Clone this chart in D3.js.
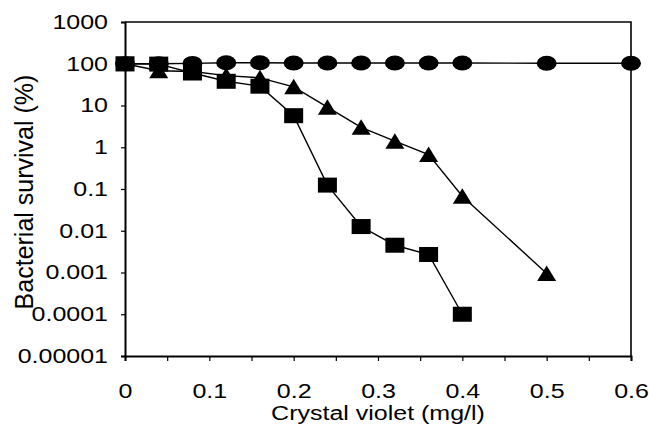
<!DOCTYPE html>
<html>
<head>
<meta charset="utf-8">
<script src="https://cdn.jsdelivr.net/npm/d3@7"></script>
<style>
  body { margin: 0; background: #fff; }
  text { font-family: "Liberation Sans", Arial, sans-serif; fill: #000; }
</style>
</head>
<body>
<div id="chart"></div>
<script>
// Crystal violet concentration (mg/l) and bacterial survival (%)
const circleDose = [0, 0.04, 0.08, 0.12, 0.16, 0.2, 0.24, 0.28, 0.32, 0.36, 0.4, 0.5, 0.6];
const circleSurvival = [100, 100, 102, 106, 106, 104, 104, 104, 104, 104, 104, 103, 103];

const triangleDose = [0, 0.04, 0.08, 0.12, 0.16, 0.2, 0.24, 0.28, 0.32, 0.36, 0.4, 0.5];
const triangleSurvival = [100, 68, 65, 52, 46, 28, 9.1, 3.0, 1.4, 0.67, 0.067, 0.00095];

const squareDose = [0, 0.04, 0.08, 0.12, 0.16, 0.2, 0.24, 0.28, 0.32, 0.36, 0.4];
const squareSurvival = [100, 98, 60, 38, 29, 5.7, 0.124, 0.0126, 0.0045, 0.0027, 0.0001];

const xTicks = [0, 0.05, 0.1, 0.15, 0.2, 0.25, 0.3, 0.35, 0.4, 0.45, 0.5, 0.55, 0.6];
const yTicks = [0.00001, 0.0001, 0.001, 0.01, 0.1, 1, 10, 100, 1000];
const yTickLabels = ['0.00001', '0.0001', '0.001', '0.01', '0.1', '1', '10', '100', '1000'];

const width = 649, height = 434;
const margin = {top: 22, right: 18, bottom: 78, left: 125};
const stretch = 1.25; // text in the original is widened horizontally

const x = d3.scaleLinear().domain([0, 0.6]).range([margin.left, width - margin.right]);
const y = d3.scaleLog().domain([0.00001, 1000]).range([height - margin.bottom, margin.top]);

const svg = d3.select('#chart').append('svg')
    .attr('width', width)
    .attr('height', height);

// frame (top and right)
svg.append('path')
    .attr('d', `M${x(0)},${y(1000)}H${x(0.6)}V${y(0.00001)}`)
    .attr('fill', 'none')
    .attr('stroke', '#000')
    .attr('stroke-width', 1.6);

// X axis
const xAxis = svg.append('g')
    .attr('transform', `translate(0,${y(0.00001)})`)
    .call(d3.axisBottom(x).tickValues(xTicks).tickSize(5)
        .tickFormat(d => Math.round(d * 100) % 10 === 0 ? d3.format('.1~f')(d) : ''));
xAxis.select('.domain').attr('stroke-width', 2);
xAxis.selectAll('.tick line').attr('stroke-width', 1.2);
xAxis.selectAll('.tick text')
    .attr('font-size', 20)
    .attr('y', 42)
    .attr('dy', 0)
    .attr('transform', `scale(${stretch},1)`);

// Y axis
const yAxis = svg.append('g')
    .attr('transform', `translate(${x(0)},0)`)
    .call(d3.axisLeft(y).tickValues(yTicks).tickSize(4)
        .tickFormat((d, i) => yTickLabels[i]));
yAxis.select('.domain').attr('stroke-width', 2);
yAxis.selectAll('.tick line').attr('stroke-width', 1.2);
yAxis.selectAll('.tick text')
    .attr('font-size', 20)
    .attr('x', -17 / stretch)
    .attr('transform', `scale(${stretch},1)`);

// Axis titles
svg.append('g')
    .attr('transform', `translate(${(x(0) + x(0.6)) / 2},420)`)
    .append('text')
    .attr('text-anchor', 'middle')
    .attr('font-size', 20)
    .attr('transform', `scale(${stretch},1)`)
    .text('Crystal violet (mg/l)');

svg.append('text')
    .attr('transform', `translate(33,${(y(1000) + y(0.00001)) / 2 + 3}) rotate(-90)`)
    .attr('text-anchor', 'middle')
    .attr('font-size', 25)
    .text('Bacterial survival (%)');

const line = d3.line().x(d => x(d[0])).y(d => y(d[1]));
const series = [
    {name: 'circle', pts: d3.zip(circleDose, circleSurvival)},
    {name: 'triangle', pts: d3.zip(triangleDose, triangleSurvival)},
    {name: 'square', pts: d3.zip(squareDose, squareSurvival)}
];

// lines
series.forEach(s => {
    svg.append('path')
        .datum(s.pts)
        .attr('fill', 'none')
        .attr('stroke', '#000')
        .attr('stroke-width', 1.4)
        .attr('d', line);
});

// markers
const circ = series[0], tri = series[1], sq = series[2];

svg.append('g').selectAll('ellipse')
    .data(circ.pts)
    .join('ellipse')
    .attr('cx', d => x(d[0]))
    .attr('cy', d => y(d[1]))
    .attr('rx', 10)
    .attr('ry', 7.5)
    .attr('fill', '#000');

svg.append('g').selectAll('path')
    .data(tri.pts)
    .join('path')
    .attr('d', d => {
        const cx = x(d[0]), cy = y(d[1]);
        return `M${cx},${cy - 8}L${cx + 9.5},${cy + 7.5}L${cx - 9.5},${cy + 7.5}Z`;
    })
    .attr('fill', '#000');

svg.append('g').selectAll('rect')
    .data(sq.pts)
    .join('rect')
    .attr('x', d => x(d[0]) - 9.5)
    .attr('y', d => y(d[1]) - 7.5)
    .attr('width', 19)
    .attr('height', 15)
    .attr('fill', '#000');
</script>
</body>
</html>
